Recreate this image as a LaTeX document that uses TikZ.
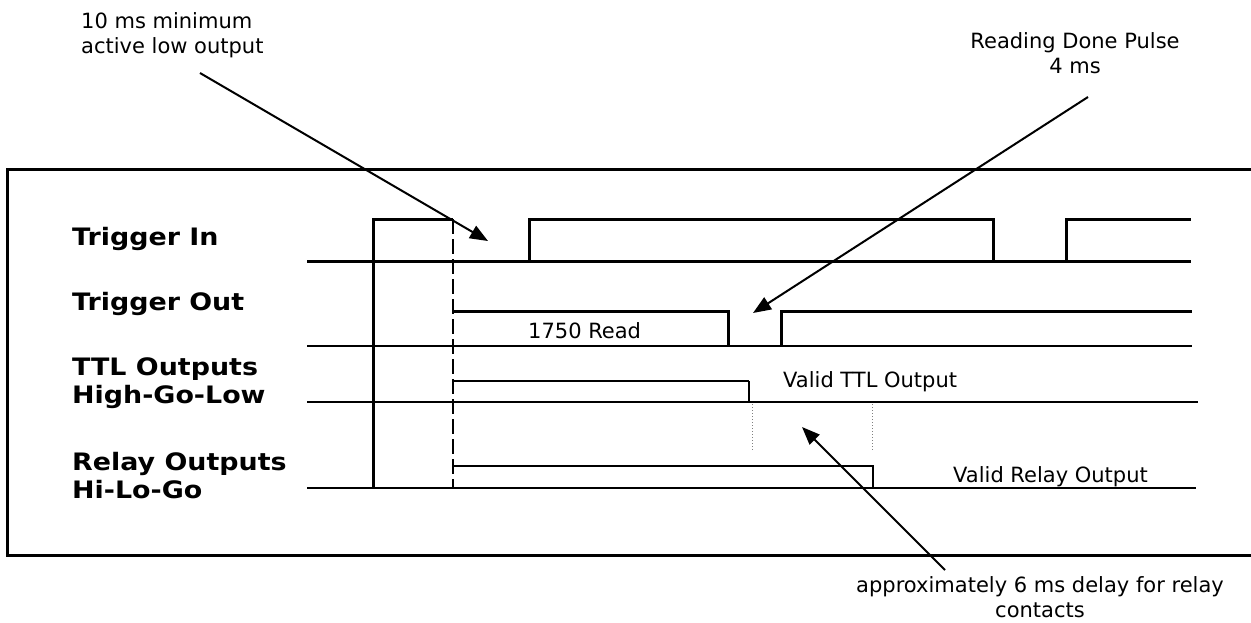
\documentclass[tikz,border=0pt]{standalone}
\usepackage{fontspec}
\setmainfont{DejaVu Sans}
\newfontfamily\lblfont[FakeStretch=1.12]{DejaVu Sans Bold}
\usetikzlibrary{arrows.meta}
\begin{document}
\begin{tikzpicture}[x=1pt,y=-1pt,
  sig/.style={line width=3pt, line join=miter},
  thinsig/.style={line width=1.5pt},
  base/.style={line width=2pt},
  lbl/.style={font=\lblfont\fontsize{24}{28}\selectfont, inner sep=0pt, align=left},
  ann/.style={font=\fontsize{21}{25}\selectfont, inner sep=0pt},
  callout/.style={line width=2pt, -{Triangle[length=18pt,width=14pt]}}]
\useasboundingbox (0,0) rectangle (1251,622);
% frame
\draw[line width=3pt] (1252,169) -- (7,169) -- (7,555) -- (1252,555);
% labels
\node[lbl, anchor=base west] (tin) at (72,245) {Trigger In};
\node[lbl, anchor=base west] (tout) at (72,310) {Trigger Out};
\node[lbl, anchor=west] (ttl) at (72,383) {TTL Outputs\\High-Go-Low};
\node[lbl, anchor=west] (rel) at (72,476) {Relay Outputs\\Hi-Lo-Go};
% Trigger In
\draw[sig] (307,261) -- (1191,261);
\draw[sig] (373,488) -- (373,219) -- (453,219);
\draw[sig] (529,261) -- (529,219) -- (993,219) -- (993,261);
\draw[sig] (1066,261) -- (1066,219) -- (1191,219);
% dashed
\draw[line width=1.5pt, dash pattern=on 15pt off 5pt] (453,219) -- (453,488);
% Trigger Out
\draw[base] (307,346) -- (1192,346);
\draw[sig] (453,311) -- (728,311) -- (728,346);
\draw[sig] (781,346) -- (781,311) -- (1192,311);
% TTL
\draw[base] (307,402) -- (1198,402);
\draw[thinsig] (453,381) -- (749,381);
\draw[line width=2.5pt] (749,381) -- (749,402);
% Relay
\draw[base] (307,488) -- (1196,488);
\draw[thinsig] (453,466) -- (873,466) -- (873,488);
% dotted guides
\draw[gray, line width=1pt, dotted] (752,404) -- (752,450);
\draw[gray, line width=1pt, dotted] (872,404) -- (872,450);
% texts
\node[ann, anchor=base west] (read) at (528,338) {1750 Read};
\node[ann, anchor=base west] (vttl) at (783,387) {Valid TTL Output};
\node[ann, anchor=base west] (vrel) at (953,482) {Valid Relay Output};
\node[ann, anchor=north west, align=left] (a1) at (81,12) {10 ms minimum\\active low output};
\node[ann, anchor=north, align=center] (a2) at (1075,32) {Reading Done Pulse\\4 ms};
\node[ann, anchor=north, align=center] (a3) at (1040,576) {approximately 6 ms delay for relay\\contacts};
% callouts
\coordinate (a1s) at (200,73);
\coordinate (a1e) at (488,241);
\coordinate (a2s) at (1088,97);
\coordinate (a2e) at (753,313);
\coordinate (a3s) at (945,570);
\coordinate (a3e) at (802,427);
\draw[callout] (a1s) -- (a1e);
\draw[callout] (a2s) -- (a2e);
\draw[callout] (a3s) -- (a3e);
\end{tikzpicture}
\end{document}
